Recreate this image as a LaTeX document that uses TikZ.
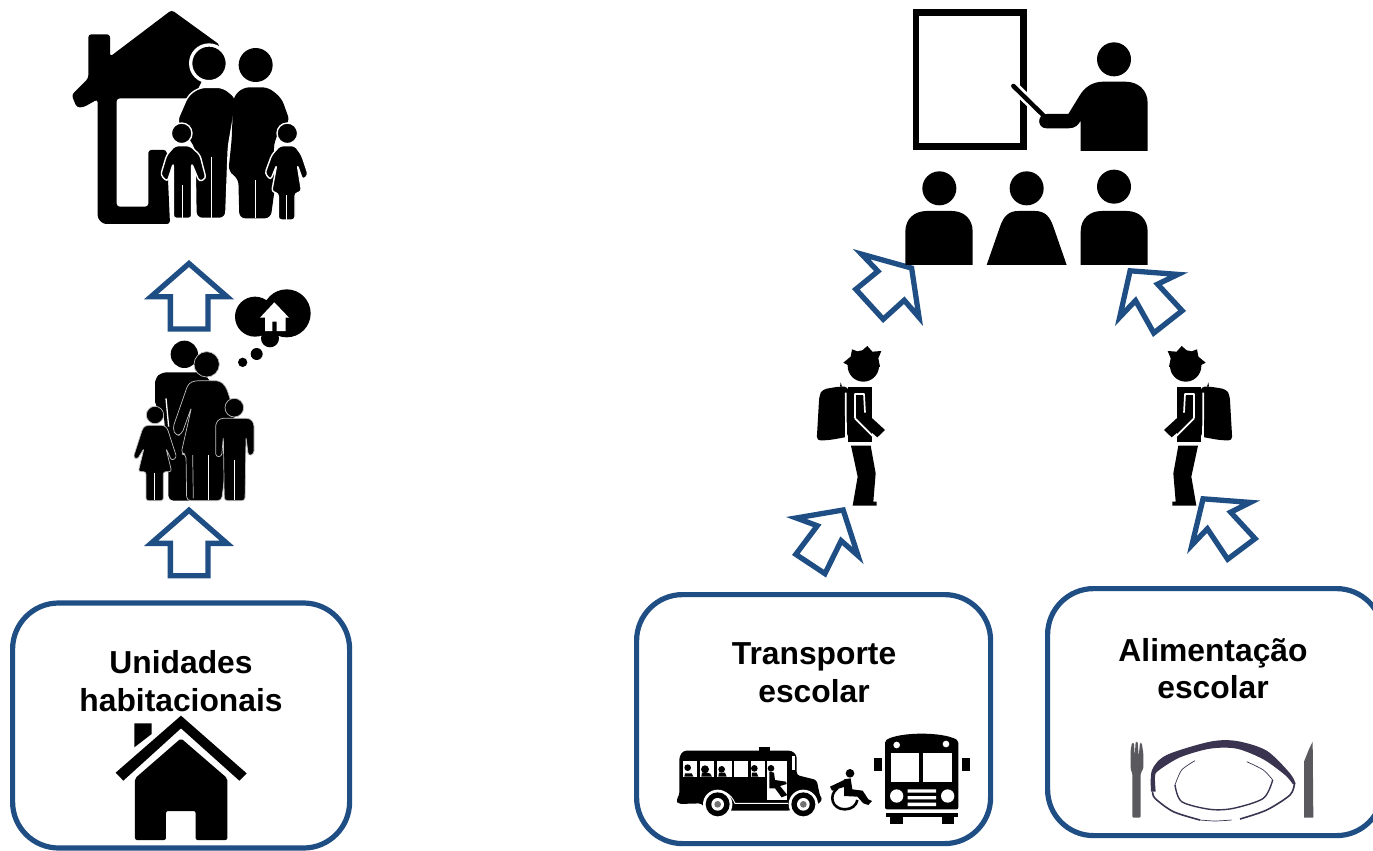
\documentclass[tikz,border=0pt]{standalone}
\usepackage{fontspec}
\setmainfont{Liberation Sans}
\definecolor{arrowblue}{HTML}{1F4E84}
\definecolor{cutlery}{HTML}{5A5A5E}
\definecolor{plateink}{HTML}{3A3450}
\tikzset{
  x=1pt,y=-1pt,
  boxframe/.style={draw=arrowblue,line width=5.2pt,rounded corners=46pt,fill=white,inner sep=0pt},
  boxlabel/.style={font=\fontsize{31.8pt}{38pt}\selectfont\bfseries,align=center,anchor=base,inner sep=0pt,text=black},
  halo/.style={fill=black,draw=white,line width=1.4pt,line join=round},
  thinhalo/.style={fill=black,draw=white!75!black,line width=0.7pt,line join=round},
  zoomed/.style={scale=1/3},
}
\newcommand\blockarrow[1]{\begin{scope}\clip #1 -- cycle;\draw[arrowblue,fill=white,line width=10.6pt,miter limit=10] #1 -- cycle;\end{scope}}
\newcommand\schoolboy{%
  \fill (190,368) -- (212,350) -- (216,328) -- (240,337) -- (262,318) -- (277,335) -- (304,333) -- (295,355) -- (300,380) -- (250,400) -- cycle;
  \fill (250,378) circle[radius=47];
  \fill[rounded corners=4] (110,602) -- (118,465) -- (128,448) -- (175,440) -- (205,440) -- (205,590) -- (150,600) -- cycle;
  \fill (180,440) -- (182,427) -- (186,440) -- cycle;
  \fill (205,440) -- (275,440) -- (275,605) -- (205,605) -- cycle;
  \fill (255,515) -- (315,570) -- (292,592) -- (225,535) -- cycle;
  \draw[white,line width=1.7pt] (197,458) -- (198,592);
  \draw[white,line width=1.7pt] (203,610) -- (275,610);
  \draw[white,line width=1.7pt,line join=round] (225,535) -- (225,462) -- (252,462) -- (255,518);
  \draw[white,line width=1.7pt] (225,535) -- (285,595);
  \fill (213,617) -- (272,617) -- (287,700) -- (280,785) -- (290,785) -- (290,797) -- (218,797) -- (233,710) -- cycle;
}
\begin{document}
\begin{tikzpicture}
\useasboundingbox (0,0) rectangle (1373,851);

% rounded boxes
\node[boxframe,minimum width=337pt,minimum height=245pt,anchor=north west] (boxhab) at (10,600.4) {};
\node[boxframe,minimum width=354pt,minimum height=249pt,anchor=north west] (boxtrans) at (634,592) {};
\node[boxframe,minimum width=335pt,minimum height=247pt,anchor=north west] (boxalim) at (1045,586) {};
\node[boxlabel] (labhab1) at (181,673.2) {Unidades};
\node[boxlabel] (labhab2) at (181,711) {habitacionais};
\node[boxlabel] (labtra1) at (814,664) {Transporte};
\node[boxlabel] (labtra2) at (814,702) {escolar};
\node[boxlabel] (labali1) at (1213,661) {Alimentação};
\node[boxlabel] (labali2) at (1213,698.5) {escolar};

% block arrows
\blockarrow{(189,260) -- (234,299.3) -- (210.7,299.3) -- (210.7,331.7) -- (167.7,331.7) -- (167.7,299.3) -- (144,299.3)}
\blockarrow{(189,506.7) -- (234,546) -- (210.7,546) -- (210.7,578.4) -- (167.7,578.4) -- (167.7,546) -- (144,546)}
\blockarrow{(914,266) -- (923,326) -- (904,304) -- (883,323) -- (852,289) -- (874,271) -- (853,249)}
\blockarrow{(845,507) -- (863.5,564) -- (842,545) -- (826,577.5) -- (792,555) -- (813,527) -- (786,517)}
\blockarrow{(1128,268) -- (1188,272.5) -- (1162,285) -- (1186,311) -- (1153,337) -- (1135,305) -- (1115,326)}
\blockarrow{(1201,496) -- (1260,500.5) -- (1235,513) -- (1259,539) -- (1227,563) -- (1207,533) -- (1187,554)}

% house and family, top left
\begin{scope}[shift={(60,0)},zoomed]
  \fill[rounded corners=3] (85,103) -- (150,103) -- (150,170) -- (335,30) -- (480,135) -- (400,295) -- (170,295) -- (170,620) -- (265,620) -- (265,450) -- (320,450) -- (330,672) -- (130,672) -- (113,655) -- (113,298) -- (70,322) -- (50,322) -- (35,285) -- (85,235) -- cycle;
  \draw[halo,line width=3.3pt] (447,190) circle[radius=55];
  \fill (587,195) circle[radius=51];
  \draw[halo,rounded corners=6] (350,365) -- (385,285) -- (420,262) -- (490,262) -- (530,295) -- (505,440) -- (497,655) -- (408,655) -- (405,450) -- (375,400) -- cycle;
  \fill[rounded corners=6] (520,290) -- (550,262) -- (625,262) -- (665,295) -- (690,365) -- (655,395) -- (640,440) -- (650,525) -- (632,655) -- (538,655) -- (535,535) -- (505,515) -- (515,420) -- cycle;
  \draw[white,line width=1pt] (453,470) -- (453,655) (585,540) -- (585,655);
  \draw[halo,rounded corners=3] (302,525) -- (320,465) -- (345,437) -- (390,437) -- (420,465) -- (438,535) -- (418,545) -- (395,490) -- (395,655) -- (340,655) -- (340,490) -- (322,545) -- cycle;
  \draw[halo] (365,400) circle[radius=31];
  \draw[white,line width=1pt] (367,555) -- (367,655);
  \draw[halo,rounded corners=3] (615,520) -- (635,465) -- (660,437) -- (705,437) -- (725,465) -- (745,525) -- (728,540) -- (712,495) -- (725,575) -- (705,580) -- (705,660) -- (655,660) -- (655,580) -- (635,575) -- (650,495) -- (632,540) -- cycle;
  \draw[halo] (682,400) circle[radius=31];
  \draw[white,line width=1pt] (680,585) -- (680,660);
\end{scope}

% family and thought bubble
\begin{scope}[shift={(120,250)},zoomed]
  \fill (405,200) circle[radius=60] (500,190) circle[radius=72] (450,265) circle[radius=27] (410,312) circle[radius=18] (368,337) circle[radius=14];
  \fill[white] (463,157) -- (507,203) -- (497,203) -- (497,243) -- (470,243) -- (470,215) -- (457,215) -- (457,243) -- (435,243) -- (435,203) -- (420,203) -- cycle;
  \fill (193,313) circle[radius=41];
  \fill[rounded corners=5] (105,470) -- (105,385) -- (125,367) -- (250,367) -- (290,420) -- (220,752) -- (145,752) -- (145,650) -- (130,480) -- cycle;
  \draw[white,line width=1.3pt] (138,445) -- (146,530);
  \draw[thinhalo] (260,343) circle[radius=38];
  \draw[thinhalo,rounded corners=4] (158,535) -- (205,400) -- (225,392) -- (300,392) -- (318,410) -- (345,490) -- (322,612) -- (305,752) -- (200,752) -- (198,612) -- (183,612) -- (215,470) -- (185,553) -- (168,558) -- cycle;
  \draw[white!75!black,line width=.7pt] (218,615) -- (220,745);
  \draw[white,line width=.8pt] (264,615) -- (264,750);
  \draw[thinhalo] (343,473) circle[radius=28];
  \draw[thinhalo,rounded corners=3] (287,620) -- (287,520) -- (300,505) -- (390,505) -- (402,520) -- (402,612) -- (385,618) -- (378,560) -- (375,752) -- (313,752) -- (310,560) -- (305,620) -- cycle;
  \draw[white,line width=.9pt] (344,630) -- (344,750);
  \draw[thinhalo] (105,495) circle[radius=26];
  \draw[thinhalo,rounded corners=2.5] (40,622) -- (68,535) -- (78,526) -- (132,526) -- (142,535) -- (170,622) -- (155,632) -- (138,595) -- (155,665) -- (130,665) -- (130,752) -- (78,752) -- (78,665) -- (55,665) -- (72,595) -- (52,628) -- cycle;
  \draw[white,line width=.9pt] (104,668) -- (104,750);
\end{scope}

% teacher and pupils
\begin{scope}[shift={(890,0)},zoomed]
  \draw[line width=6.7pt,miter limit=10] (78,38) rectangle (400,440);
  \draw[white,line width=10pt] (368,256) -- (430,316);
  \draw[line width=4.5pt,line cap=round] (370,258) -- (462,348);
  \fill (672,178) circle[radius=51];
  \fill (773,453) -- (773,310) .. controls (773,270) and (745,245) .. (705,245) -- (640,245) .. controls (610,245) and (585,260) .. (570,285) -- (535,342) -- (470,342) .. controls (440,342) and (440,385) .. (470,385) -- (535,385) .. controls (555,385) and (565,375) .. (572,362) -- (572,453) -- cycle;
  \fill (148,565) circle[radius=51];
  \fill (410,565) circle[radius=51];
  \fill (672,560) circle[radius=51];
  \fill (46,795) -- (46,695) .. controls (46,655) and (75,633) .. (110,633) -- (185,633) .. controls (220,633) and (248,655) .. (248,695) -- (248,795) -- cycle;
  \fill (572,795) -- (572,695) .. controls (572,655) and (600,633) .. (635,633) -- (710,633) .. controls (745,633) and (773,655) .. (773,695) -- (773,795) -- cycle;
  \fill (290,795) -- (330,680) .. controls (340,650) and (355,633) .. (385,633) -- (435,633) .. controls (465,633) and (480,650) .. (490,680) -- (530,795) -- cycle;
\end{scope}

% schoolchildren
\begin{scope}[shift={(780,240)},zoomed]
  \schoolboy
\end{scope}
\begin{scope}[shift={(1269,240)},xscale=-1/3,yscale=1/3]
  \schoolboy
\end{scope}

% house icon
\begin{scope}[shift={(0,590)},zoomed]
  \fill (403,400) -- (455,400) -- (455,432) -- (403,472) -- cycle;
  \fill (543,377) -- (740,550) -- (718,572) -- (543,415) -- (370,572) -- (347,548) -- cycle;
  \fill[rounded corners=2] (543,445) -- (682,565) -- (682,750) -- (587,750) -- (587,663) -- (498,663) -- (498,750) -- (405,750) -- (405,565) -- cycle;
\end{scope}

% side view bus
\begin{scope}[shift={(640,720)},zoomed]
  \fill (358,80) rectangle (390,92);
  \fill[rounded corners=3] (118,110) -- (130,92) -- (455,92) -- (470,105) -- (470,165) -- (530,180) -- (540,228) -- (548,240) -- (530,255) -- (445,272) -- (200,272) -- (185,250) -- (115,252) -- (108,240) -- (118,226) -- cycle;
  \foreach \xa/\xb in {130/172,180/222,230/275,282/325,332/375,382/442}
    \fill[white] (\xa,122) rectangle (\xb,170);
  \fill[white] (380,170) rectangle (440,240);
  \fill[white] (455,108) rectangle (465,150);
  \fill (143,143) circle[radius=10] (195,148) circle[radius=12] (245,148) circle[radius=10] (343,145) circle[radius=10] (393,145) circle[radius=10];
  \fill (133,170) -- (135,160) -- (155,160) -- (160,170) -- cycle;
  \fill (184,170) -- (186,158) -- (210,160) -- (216,170) -- cycle;
  \fill (235,170) -- (237,158) -- (255,158) -- (260,170) -- cycle;
  \fill (335,170) -- (336,158) -- (350,158) -- (355,170) -- cycle;
  \fill (388,155) -- (402,158) -- (405,180) -- (438,185) -- (440,192) -- (420,198) -- (442,225) -- (425,232) -- (405,205) -- (388,205) -- cycle;
  \draw[white,line width=.9pt] (200,270) .. controls (190,210) and (260,190) .. (285,250) -- (445,250);
  \draw[white,line width=.9pt] (450,250) .. controls (450,215) and (520,205) .. (530,250);
  \foreach \cx/\cy in {233/253,490/253}{
    \fill[white] (\cx,\cy) circle[radius=44];
    \fill (\cx,\cy) circle[radius=36];
    \fill[white] (\cx,\cy) circle[radius=19];
    \fill[black!55] (\cx,\cy) circle[radius=10];
  }
  % wheelchair
  \fill (630,160) circle[radius=13];
  \fill (612,178) -- (632,175) -- (637,208) -- (668,212) -- (685,238) -- (696,243) -- (685,255) -- (670,250) -- (652,230) -- (612,228) -- cycle;
  \fill (612,180) -- (570,200) -- (576,212) -- (615,200) -- cycle;
  \draw[line width=2.6pt] (592,205) .. controls (565,225) and (575,268) .. (615,268) .. controls (635,268) and (650,255) .. (652,240);
  % front bus
  \fill[rounded corners=2] (735,62) .. controls (780,35) and (910,35) .. (955,62) -- (955,268) -- (735,268) -- cycle;
  \fill[white] (752,100) rectangle (838,187);
  \fill[white] (850,100) rectangle (935,187);
  \fill[white] (770,75) circle[radius=10] (918,72) circle[radius=10] (770,228) circle[radius=20] (923,228) circle[radius=20];
  \fill[white] (803,208) rectangle (888,218) (803,228) rectangle (888,238) (803,248) rectangle (888,258);
  \fill (738,280) rectangle (953,290);
  \fill (750,290) rectangle (788,312);
  \fill (905,290) rectangle (943,312);
  \fill (703,115) rectangle (727,152);
  \fill (965,113) rectangle (990,152);
\end{scope}

% plate and cutlery
\begin{scope}[shift={(1100,720)},zoomed]
  \fill[cutlery,rounded corners=1.2] (97,293) -- (97,160) -- (92,148) -- (92,90) -- (96,68) -- (102,68) -- (104,110) -- (107,65) -- (113,65) -- (116,110) -- (120,68) -- (125,68) -- (130,100) -- (130,145) -- (122,160) -- (122,293) -- cycle;
  \fill[cutlery] (612,293) -- (612,125) -- (628,85) -- (638,65) -- (640,293) -- cycle;
  \fill[plateink] plot[smooth] coordinates {(153,215) (156,150) (200,105) (330,65) (410,63) (500,92) (570,160) (587,192)}
    -- plot[smooth] coordinates {(578,192) (555,165) (490,118) (410,86) (330,86) (240,112) (175,152) (165,170) (167,215)} -- cycle;
  \draw[plateink,line width=1.6pt] plot[smooth] coordinates {(583,192) (570,225) (500,270) (420,297)};
  \draw[plateink,line width=.7pt] plot[smooth] coordinates {(395,300) (345,303) (300,300)};
  \draw[plateink,line width=1.6pt] plot[smooth] coordinates {(300,300) (220,275) (165,235) (158,215)};
  \draw[plateink,line width=.7pt] plot[smooth] coordinates {(285,122) (245,150) (225,195)};
  \draw[plateink,line width=1.4pt] plot[smooth] coordinates {(225,195) (245,245) (330,268) (400,265) (490,235) (518,180)};
  \draw[plateink,line width=.7pt] plot[smooth] coordinates {(518,180) (490,150) (440,125)};
\end{scope}
\end{tikzpicture}
\end{document}
